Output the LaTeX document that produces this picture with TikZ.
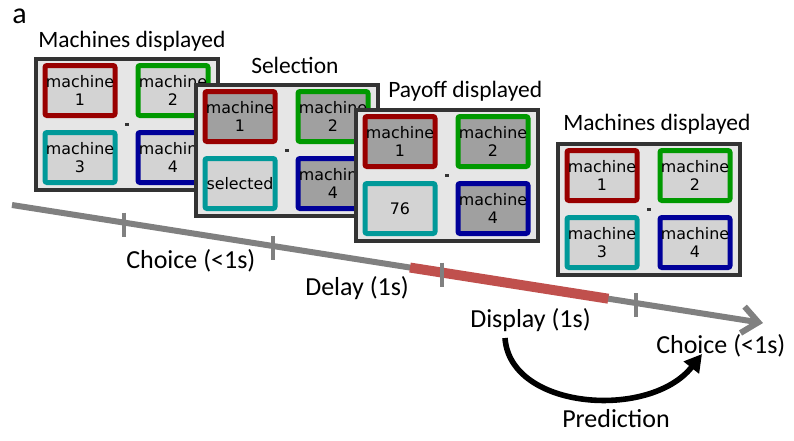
\documentclass[tikz,border=0pt]{standalone}
\usepackage{fontspec}
\setmainfont{Carlito}
\newfontfamily\scrfont{DejaVu Sans}
\usetikzlibrary{arrows.meta,calc}
\definecolor{mred}{HTML}{990000}
\definecolor{mgreen}{HTML}{009900}
\definecolor{mteal}{HTML}{009999}
\definecolor{mblue}{HTML}{000099}
\definecolor{lightbox}{HTML}{D3D3D3}
\definecolor{dimbox}{HTML}{A0A0A0}
\definecolor{scrbg}{HTML}{E6E6E6}
\definecolor{framec}{HTML}{333333}
\definecolor{tgray}{HTML}{808080}
\definecolor{dred}{HTML}{C0504D}
\tikzset{
  screenbox/.style={draw=framec, fill=scrbg, line width=3pt, minimum width=136.5pt, minimum height=98.25pt, inner sep=0pt},
  mbox/.style={line width=3.75pt, rounded corners=1.5pt, minimum width=52.5pt, minimum height=37.5pt, inner sep=0pt, align=center, font=\scrfont\fontsize{11.9}{13.9}\selectfont},
  fixdot/.style={fill=framec, minimum width=3pt, minimum height=2.25pt, inner sep=0pt},
  titletext/.style={anchor=base west, inner sep=0pt, font=\fontsize{17.6}{20}\selectfont},
  tlabel/.style={anchor=base west, inner sep=0pt, font=\fontsize{19.5}{22}\selectfont},
  tline/.style={draw=tgray, line width=4.5pt},
  tickmark/.style={draw=tgray, line width=3pt},
  redseg/.style={draw=dred, line width=7.5pt},
  predarrow/.style={draw=black, line width=4.2pt, -{Triangle[length=13pt,width=14pt]}}
}
\newcommand\mscreen[7]{%
  \node[screenbox] (#1) at (#2) {};
  \node[fixdot] (#1f) at (#1) {};
  \node[mbox, draw=mred, fill=#3] (#1a) at ($(#1)+(-46.5,-33.5)$) {machine\\1};
  \node[mbox, draw=mgreen, fill=#4] (#1b) at ($(#1)+(46.5,-33.5)$) {machine\\2};
  \node[mbox, draw=mteal, fill=#5] (#1c) at ($(#1)+(-46.5,33.5)$) {#7};
  \node[mbox, draw=mblue, fill=#6] (#1d) at ($(#1)+(46.5,33.5)$) {machine\\4};
}
\begin{document}
\begin{tikzpicture}[x=0.75pt, y=-0.75pt]
\useasboundingbox (0,0) rectangle (794,440);

\node[anchor=base west, inner sep=0pt, font=\fontsize{22.5}{25}\selectfont] (lbla) at (12,23) {a};

% screens
\mscreen{sA}{126.5,124}{lightbox}{lightbox}{lightbox}{lightbox}{machine\\3}
\mscreen{sB}{286.5,150}{dimbox}{dimbox}{lightbox}{dimbox}{selected}
\mscreen{sC}{446.5,175}{dimbox}{dimbox}{lightbox}{dimbox}{76}
\mscreen{sD}{648.5,209}{lightbox}{lightbox}{lightbox}{lightbox}{machine\\3}

% titles
\node[titletext] (tA) at (38,47) {Machines displayed};
\node[titletext] (tB) at (251,73) {Selection};
\node[titletext] (tC) at (388,97) {Payoff displayed};
\node[titletext] (tD) at (563,130) {Machines displayed};

% timeline
\coordinate (ts) at (12,205);
\coordinate (te) at (763,323);
\path (ts) -- (te)
  coordinate[pos=0.1491] (k1)
  coordinate[pos=0.3475] (k2)
  coordinate[pos=0.5726] (k3)
  coordinate[pos=0.8309] (k4)
  coordinate[pos=0.530] (r0)
  coordinate[pos=0.794] (r1);
\draw[tline, -{Straight Barb[length=12pt,width=20pt]}] (ts) -- (te);
\draw[redseg] (r0) -- (r1);
\foreach \k in {k1,k2,k3,k4}{
  \draw[tickmark] ($(\k)+(0,-10)$) -- ($(\k)+(0,14)$);
}

% labels
\node[tlabel] (lc1) at (126,268) {Choice (<1s)};
\node[tlabel] (ldl) at (305,295) {Delay (1s)};
\node[tlabel] (lds) at (470,327) {Display (1s)};
\node[tlabel] (lc2) at (656,353) {Choice (<1s)};
\node[tlabel] (lpr) at (562,427) {Prediction};

% prediction arrow
\coordinate (p0) at (505,338);
\coordinate (p1) at (702,354);
\draw[predarrow] (p0) .. controls (510,410) and (650,420) .. (p1);
\end{tikzpicture}
\end{document}
